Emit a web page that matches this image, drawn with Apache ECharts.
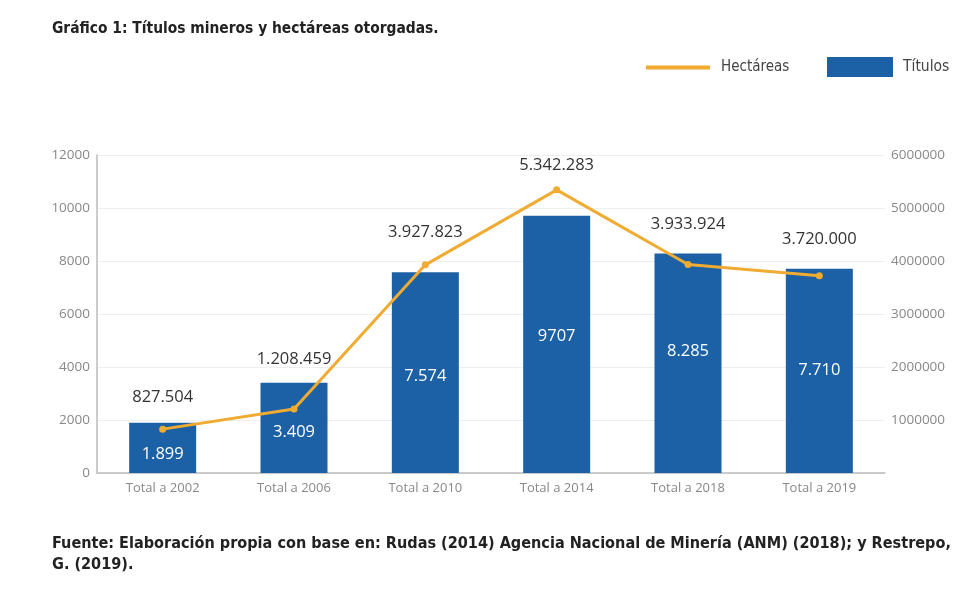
<!DOCTYPE html>
<html><head><meta charset="utf-8">
<script src="https://cdn.jsdelivr.net/npm/echarts@6/dist/echarts.min.js"></script>
<style>html,body{margin:0;padding:0;background:#fff}#c{width:980px;height:593px}</style>
</head><body><div id="c"></div>
<script>
const categories = ['Total a 2002','Total a 2006','Total a 2010','Total a 2014','Total a 2018','Total a 2019'];
const titulos = [1899, 3409, 7574, 9707, 8285, 7710];
const tituloLabels = ['1.899','3.409','7.574','9707','8.285','7.710'];
const hectareas = [827504, 1208459, 3927823, 5342283, 3933924, 3720000];
const hectareaLabels = ['827.504','1.208.459','3.927.823','5.342.283','3.933.924','3.720.000'];
const leftTicks = [0, 2000, 4000, 6000, 8000, 10000, 12000];
const rightTicks = [0, 1000000, 2000000, 3000000, 4000000, 5000000, 6000000];
// label placement tweaks (style only)
const lineLabelDist = [20, 38, 21, 13, 28, 25];
const barLabelShift = [6, 4, 4, -8, -12, -1];

const titleFont = 'DejaVu Sans Condensed';
const chart = echarts.init(document.getElementById('c'));
chart.setOption({
  animation: false,
  title: [
    {text: 'Gráfico 1: Títulos mineros y hectáreas otorgadas.', left: 47, top: 16,
     textStyle: {fontFamily: titleFont, fontWeight: 'bold', fontSize: 15.4, color: '#222'}},
    {text: 'Fuente: Elaboración propia con base en: Rudas (2014) Agencia Nacional de Minería (ANM) (2018); y Restrepo,\nG. (2019).',
     left: 47, top: 528,
     textStyle: {fontFamily: titleFont, fontWeight: 'bold', fontSize: 16.1, color: '#222', lineHeight: 21}}
  ],
  legend: [
    {data: [{name: 'Hectáreas', icon: 'rect'}], left: 641, top: 55, itemWidth: 64, itemHeight: 4,
     textStyle: {fontFamily: titleFont, fontSize: 15, color: '#444', padding: [0,0,0,6]}},
    {data: [{name: 'Títulos', icon: 'rect'}], left: 822, top: 52, itemWidth: 66, itemHeight: 20,
     textStyle: {fontFamily: titleFont, fontSize: 15.5, color: '#444', padding: [0,0,0,5]}}
  ],
  grid: {left: 97, right: 95, top: 155, bottom: 120, containLabel: false},
  xAxis: {
    type: 'category', data: categories,
    axisLine: {lineStyle: {color: '#bbb', width: 1.5}},
    axisTick: {show: false},
    axisLabel: {color: '#888', fontSize: 13, fontFamily: 'Open Sans', margin: 9}
  },
  yAxis: [
    {type: 'value', min: leftTicks[0], max: leftTicks[leftTicks.length-1], interval: leftTicks[1]-leftTicks[0],
     axisLine: {show: true, lineStyle: {color: '#bbb', width: 1.5}},
     axisTick: {show: false},
     splitLine: {lineStyle: {color: '#eee'}},
     axisLabel: {color: '#888', fontSize: 13.5, fontFamily: 'Open Sans', margin: 7,
       formatter: v => String(v)}},
    {type: 'value', min: rightTicks[0], max: rightTicks[rightTicks.length-1], interval: rightTicks[1]-rightTicks[0],
     axisLine: {show: false}, axisTick: {show: false},
     splitLine: {show: false},
     axisLabel: {color: '#888', fontSize: 13.5, fontFamily: 'Open Sans', margin: 6,
       formatter: v => v === 0 ? '' : String(v)}}
  ],
  series: [
    {name: 'Títulos', type: 'bar', yAxisIndex: 0, barWidth: 67,
     data: titulos.map((v, i) => ({value: v, label: {offset: [0, barLabelShift[i]]}})),
     itemStyle: {color: '#1c61a5'},
     label: {show: true, position: 'inside', color: '#fff', fontSize: 16.5, fontFamily: 'Open Sans',
       formatter: p => tituloLabels[p.dataIndex]}},
    {name: 'Hectáreas', type: 'line', yAxisIndex: 1,
     data: hectareas.map((v, i) => ({value: v, label: {distance: lineLabelDist[i]}})),
     itemStyle: {color: '#f0ab33'},
     lineStyle: {color: '#f0ab33', width: 3},
     symbol: 'circle', symbolSize: 7,
     label: {show: true, position: 'top', color: '#333', fontSize: 16.5, fontFamily: 'Open Sans',
       formatter: p => hectareaLabels[p.dataIndex]}}
  ]
});
</script></body></html>
